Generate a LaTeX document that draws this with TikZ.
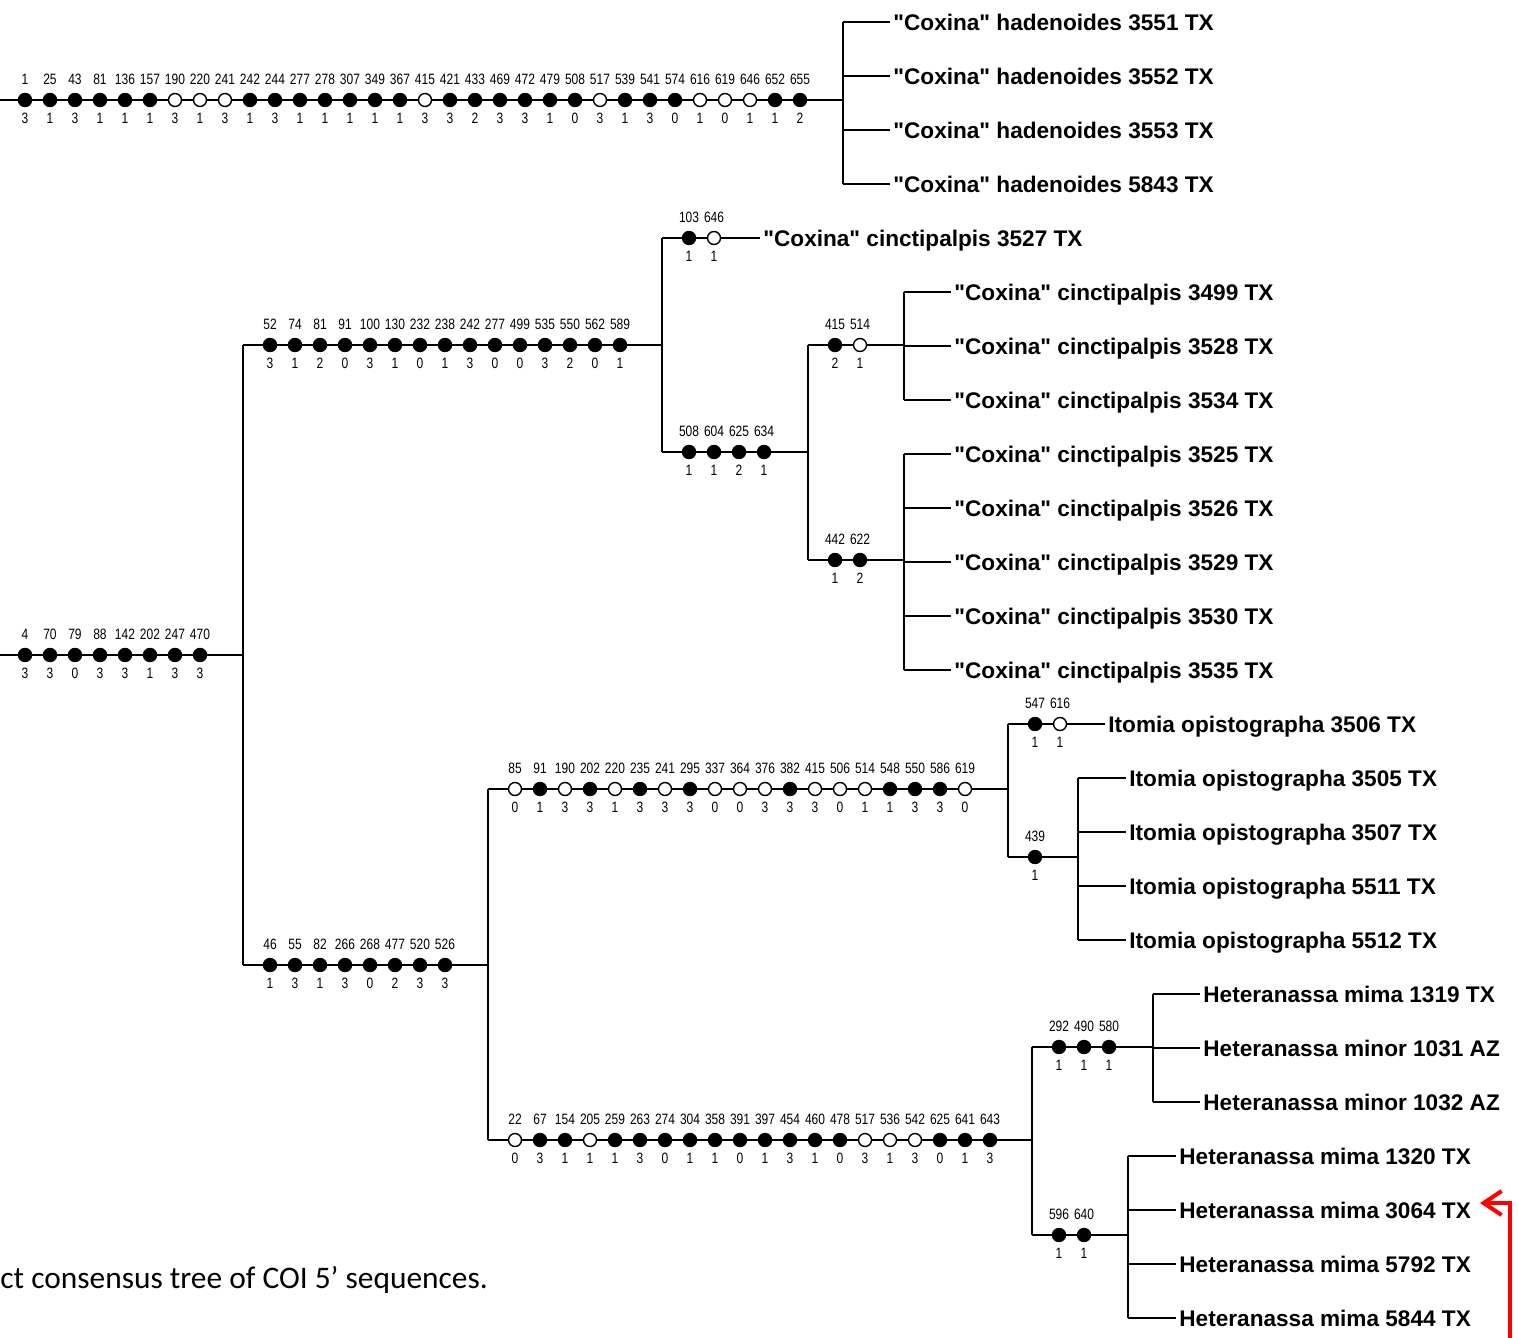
\documentclass[tikz,border=0pt]{standalone}
\usepackage{fontspec}
\setmainfont{Liberation Sans}[Ligatures=TeXOff]
\newfontfamily\charfont[FakeStretch=0.8]{Liberation Sans}
\newfontfamily\captfont{Carlito}
\usetikzlibrary{calc,arrows.meta}

\tikzset{
  br/.style={line width=0.8pt},
  fdot/.style={circle, draw, line width=0.7pt, fill=black, inner sep=0pt, minimum size=6.5pt},
  odot/.style={fdot, fill=white},
  num/.style={font=\charfont\fontsize{7.5}{8}\selectfont, inner sep=0pt, text height=5.4pt, text depth=0pt},
  taxon/.style={font=\bfseries\fontsize{11.3}{13}\selectfont, anchor=west, inner xsep=1.5pt, inner ysep=0pt, text height=8.1pt, text depth=0pt},
  redarrow/.style={draw=red, line width=2pt, -{Straight Barb[length=9pt,width=12pt]}},
}

% #1 name, #2 start of branch, #3 list character/state/style
\newcommand\charstates[3]{%
  \foreach \cn/\cs/\cf [count=\i] in {#3} {
    \node[\cf] (#1\i) at ($(#2)+(25*\i+2,0)$) {};
    \node[num] (#1\i n) at ($(#1\i)+(0,-21)$) {\cn};
    \node[num] (#1\i s) at ($(#1\i)+(0,18)$) {\cs};
  }}

\begin{document}
\begin{tikzpicture}[x=0.5pt, y=-0.5pt]
  \useasboundingbox (0,0) rectangle (1518,1337);

  \coordinate (rA) at (-2,100);
  \coordinate (rB) at (-2,655);
  \coordinate (had) at (843,100);
  \coordinate (b1) at (243,655);
  \coordinate (cin) at (662,345);
  \coordinate (cinB) at (808,452);
  \coordinate (cinB1) at (904,345);
  \coordinate (cinB2) at (904,560);
  \coordinate (lowr) at (488,965);
  \coordinate (ito) at (1008,789);
  \coordinate (itoB) at (1078,857);
  \coordinate (het) at (1032,1140);
  \coordinate (het1) at (1153,1047);
  \coordinate (het2) at (1128,1235);

  \node[taxon] (t1) at (890,22) {"Coxina" hadenoides 3551 TX};
  \node[taxon] (t2) at (890,76) {"Coxina" hadenoides 3552 TX};
  \node[taxon] (t3) at (890,130) {"Coxina" hadenoides 3553 TX};
  \node[taxon] (t4) at (890,184) {"Coxina" hadenoides 5843 TX};
  \node[taxon] (t5) at (760,238) {"Coxina" cinctipalpis 3527 TX};
  \node[taxon] (t6) at (951,292) {"Coxina" cinctipalpis 3499 TX};
  \node[taxon] (t7) at (951,346) {"Coxina" cinctipalpis 3528 TX};
  \node[taxon] (t8) at (951,400) {"Coxina" cinctipalpis 3534 TX};
  \node[taxon] (t9) at (951,454) {"Coxina" cinctipalpis 3525 TX};
  \node[taxon] (t10) at (951,508) {"Coxina" cinctipalpis 3526 TX};
  \node[taxon] (t11) at (951,562) {"Coxina" cinctipalpis 3529 TX};
  \node[taxon] (t12) at (951,616) {"Coxina" cinctipalpis 3530 TX};
  \node[taxon] (t13) at (951,670) {"Coxina" cinctipalpis 3535 TX};
  \node[taxon] (t14) at (1105,724) {Itomia opistographa 3506 TX};
  \node[taxon] (t15) at (1126,778) {Itomia opistographa 3505 TX};
  \node[taxon] (t16) at (1126,832) {Itomia opistographa 3507 TX};
  \node[taxon] (t17) at (1126,886) {Itomia opistographa 5511 TX};
  \node[taxon] (t18) at (1126,940) {Itomia opistographa 5512 TX};
  \node[taxon] (t19) at (1200,994) {Heteranassa mima 1319 TX};
  \node[taxon] (t20) at (1200,1048) {Heteranassa minor 1031 AZ};
  \node[taxon] (t21) at (1200,1102) {Heteranassa minor 1032 AZ};
  \node[taxon] (t22) at (1176,1156) {Heteranassa mima 1320 TX};
  \node[taxon] (t23) at (1176,1210) {Heteranassa mima 3064 TX};
  \node[taxon] (t24) at (1176,1264) {Heteranassa mima 5792 TX};
  \node[taxon] (t25) at (1176,1318) {Heteranassa mima 5844 TX};

  \draw[br] (rA) -- (had);
  \draw[br] (had |- t1) -- (had |- t4);
  \foreach \t in {1,...,4} \draw[br] (had |- t\t) -- (t\t.west);

  \draw[br] (rB) -- (b1);
  \draw[br] (b1 |- cin) -- (b1 |- lowr);
  \draw[br] (b1 |- cin) -- (cin);
  \draw[br] (cin |- t5) -- (cin |- cinB);
  \draw[br] (cin |- t5) -- (t5.west);
  \draw[br] (cin |- cinB) -- (cinB);
  \draw[br] (cinB |- cinB1) -- (cinB |- cinB2);
  \draw[br] (cinB |- cinB1) -- (cinB1);
  \draw[br] (cinB |- cinB2) -- (cinB2);
  \draw[br] (cinB1 |- t6) -- (cinB1 |- t8);
  \foreach \t in {6,7,8} \draw[br] (cinB1 |- t\t) -- (t\t.west);
  \draw[br] (cinB2 |- t9) -- (cinB2 |- t13);
  \foreach \t in {9,...,13} \draw[br] (cinB2 |- t\t) -- (t\t.west);

  \draw[br] (b1 |- lowr) -- (lowr);
  \draw[br] (lowr |- ito) -- (lowr |- het);
  \draw[br] (lowr |- ito) -- (ito);
  \draw[br] (ito |- t14) -- (ito |- itoB);
  \draw[br] (ito |- t14) -- (t14.west);
  \draw[br] (ito |- itoB) -- (itoB);
  \draw[br] (itoB |- t15) -- (itoB |- t18);
  \foreach \t in {15,...,18} \draw[br] (itoB |- t\t) -- (t\t.west);
  \draw[br] (lowr |- het) -- (het);
  \draw[br] (het |- het1) -- (het |- het2);
  \draw[br] (het |- het1) -- (het1);
  \draw[br] (het |- het2) -- (het2);
  \draw[br] (het1 |- t19) -- (het1 |- t21);
  \foreach \t in {19,20,21} \draw[br] (het1 |- t\t) -- (t\t.west);
  \draw[br] (het2 |- t22) -- (het2 |- t25);
  \foreach \t in {22,...,25} \draw[br] (het2 |- t\t) -- (t\t.west);

  \charstates{hd}{rA}{1/3/fdot, 25/1/fdot, 43/3/fdot, 81/1/fdot, 136/1/fdot, 157/1/fdot,
    190/3/odot, 220/1/odot, 241/3/odot, 242/1/fdot, 244/3/fdot, 277/1/fdot, 278/1/fdot,
    307/1/fdot, 349/1/fdot, 367/1/fdot, 415/3/odot, 421/3/fdot, 433/2/fdot, 469/3/fdot,
    472/3/fdot, 479/1/fdot, 508/0/fdot, 517/3/odot, 539/1/fdot, 541/3/fdot, 574/0/fdot,
    616/1/odot, 619/0/odot, 646/1/odot, 652/1/fdot, 655/2/fdot}
  \charstates{rb}{rB}{4/3/fdot, 70/3/fdot, 79/0/fdot, 88/3/fdot, 142/3/fdot, 202/1/fdot,
    247/3/fdot, 470/3/fdot}
  \charstates{ci}{b1 |- cin}{52/3/fdot, 74/1/fdot, 81/2/fdot, 91/0/fdot, 100/3/fdot,
    130/1/fdot, 232/0/fdot, 238/1/fdot, 242/3/fdot, 277/0/fdot, 499/0/fdot, 535/3/fdot,
    550/2/fdot, 562/0/fdot, 589/1/fdot}
  \charstates{cA}{cin |- t5}{103/1/fdot, 646/1/odot}
  \charstates{cB}{cin |- cinB}{508/1/fdot, 604/1/fdot, 625/2/fdot, 634/1/fdot}
  \charstates{cC}{cinB |- cinB1}{415/2/fdot, 514/1/odot}
  \charstates{cD}{cinB |- cinB2}{442/1/fdot, 622/2/fdot}
  \charstates{lw}{b1 |- lowr}{46/1/fdot, 55/3/fdot, 82/1/fdot, 266/3/fdot, 268/0/fdot,
    477/2/fdot, 520/3/fdot, 526/3/fdot}
  \charstates{it}{lowr |- ito}{85/0/odot, 91/1/fdot, 190/3/odot, 202/3/fdot, 220/1/odot,
    235/3/fdot, 241/3/odot, 295/3/fdot, 337/0/odot, 364/0/odot, 376/3/odot, 382/3/fdot,
    415/3/odot, 506/0/odot, 514/1/odot, 548/1/fdot, 550/3/fdot, 586/3/fdot, 619/0/odot}
  \charstates{iA}{ito |- t14}{547/1/fdot, 616/1/odot}
  \charstates{iB}{ito |- itoB}{439/1/fdot}
  \charstates{he}{lowr |- het}{22/0/odot, 67/3/fdot, 154/1/fdot, 205/1/odot, 259/1/fdot,
    263/3/fdot, 274/0/fdot, 304/1/fdot, 358/1/fdot, 391/0/fdot, 397/1/fdot, 454/3/fdot,
    460/1/fdot, 478/0/fdot, 517/3/odot, 536/1/odot, 542/3/odot, 625/0/fdot, 641/1/fdot,
    643/3/fdot}
  \charstates{hA}{het |- het1}{292/1/fdot, 490/1/fdot, 580/1/fdot}
  \charstates{hB}{het |- het2}{596/1/fdot, 640/1/fdot}

  \node[font=\captfont\fontsize{15.7}{18}\selectfont, anchor=west, inner sep=0pt] (capt)
    at (0,1280) {ct consensus tree of COI 5’ sequences.};

  \coordinate (arrS) at (1510,1345);
  \coordinate (arrE) at (1480,1203);
  \draw[redarrow] (arrS) |- (arrE);
\end{tikzpicture}
\end{document}
